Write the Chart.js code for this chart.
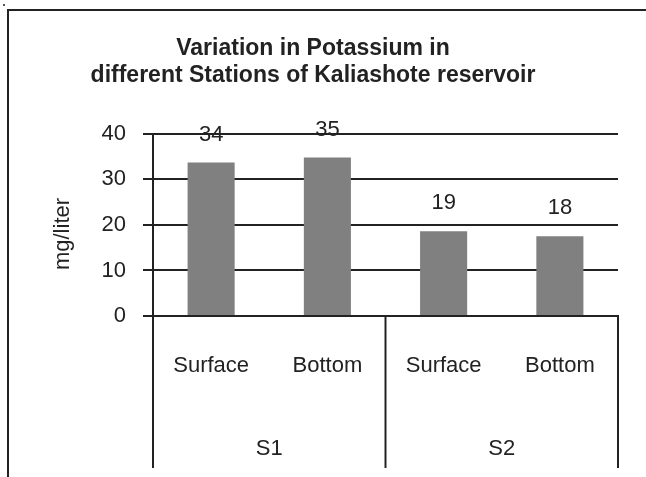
<!DOCTYPE html>
<html>
<head>
<meta charset="utf-8">
<script src="https://cdn.jsdelivr.net/npm/chart.js@4/dist/chart.umd.min.js"></script>
<style>
  html, body { margin: 0; padding: 0; background: #fff; }
  #wrap { width: 646px; height: 477px; }
</style>
</head>
<body>
<div id="wrap"><canvas id="myPlot" width="646" height="477"></canvas></div>
<script>
const stations = ["S1", "S2"];
const depths = ["Surface", "Bottom", "Surface", "Bottom"];
const potassium = [33.7, 34.8, 18.6, 17.5];
const valueLabels = ["34", "35", "19", "18"];
const yTitle = "mg/liter";
const chartTitle = ["Variation in Potassium in", "different Stations of Kaliashote reservoir"];

const ink = "#222";
const font = "'Liberation Sans', Arial, sans-serif";

// frame, group dividers, station names, value labels
const extras = {
  id: "extras",
  beforeDraw(chart) {
    const c = chart.ctx;
    c.save();
    c.fillStyle = "#fff";
    c.fillRect(0, 0, chart.width, chart.height);
    c.strokeStyle = ink;
    c.lineWidth = 2;
    c.beginPath();
    c.moveTo(8, chart.height);
    c.lineTo(8, 10);
    c.lineTo(chart.width + 2, 10);
    c.stroke();
    c.fillStyle = "#555";
    c.fillRect(3, 4, 2, 2);
    c.restore();
  },
  afterDraw(chart) {
    const c = chart.ctx;
    const x = chart.scales.x;
    const y = chart.scales.y;
    c.save();
    c.strokeStyle = ink;
    c.lineWidth = 2;
    const mid = (x.getPixelForValue(1) + x.getPixelForValue(2)) / 2;
    [x.left, mid, x.right].forEach(px => {
      c.beginPath();
      c.moveTo(px, y.bottom);
      c.lineTo(px, 468);
      c.stroke();
    });

    c.fillStyle = ink;
    c.font = "22px " + font;
    c.textAlign = "center";
    c.textBaseline = "middle";
    stations.forEach((s, i) => {
      const cx = (x.getPixelForValue(i * 2) + x.getPixelForValue(i * 2 + 1)) / 2;
      c.fillText(s, cx, 449);
    });

    const meta = chart.getDatasetMeta(0);
    meta.data.forEach((bar, i) => {
      c.fillText(valueLabels[i], bar.x, bar.y - 28);
    });

    c.translate(63, 234);
    c.rotate(-Math.PI / 2);
    c.fillText(yTitle, 0, 0);
    c.restore();
  }
};

new Chart("myPlot", {
  type: "bar",
  data: {
    labels: depths,
    datasets: [{
      data: potassium,
      backgroundColor: "#808080",
      barPercentage: 0.405,
      categoryPercentage: 1
    }]
  },
  options: {
    responsive: false,
    animation: false,
    layout: { padding: { left: 8, right: 28, top: 0, bottom: 0 } },
    plugins: {
      legend: { display: false },
      tooltip: { enabled: false },
      title: {
        display: true,
        text: chartTitle,
        color: ink,
        font: { family: font, size: 23, weight: "bold", lineHeight: 1.17 },
        padding: { top: 35, bottom: 45 }
      }
    },
    scales: {
      x: {
        afterFit: s => { s.height = 161; },
        grid: { display: false },
        border: { display: true, color: ink, width: 2 },
        ticks: { color: ink, font: { family: font, size: 22 }, padding: 29, maxRotation: 0 }
      },
      y: {
        min: 0,
        max: 40,
        afterFit: s => { s.width = 145; },
        grid: { color: ink, lineWidth: 2, tickLength: 10 },
        border: { display: true, color: ink, width: 2 },
        ticks: { stepSize: 10, color: ink, font: { family: font, size: 22 }, padding: 17 }
      }
    }
  },
  plugins: [extras]
});
</script>
</body>
</html>
